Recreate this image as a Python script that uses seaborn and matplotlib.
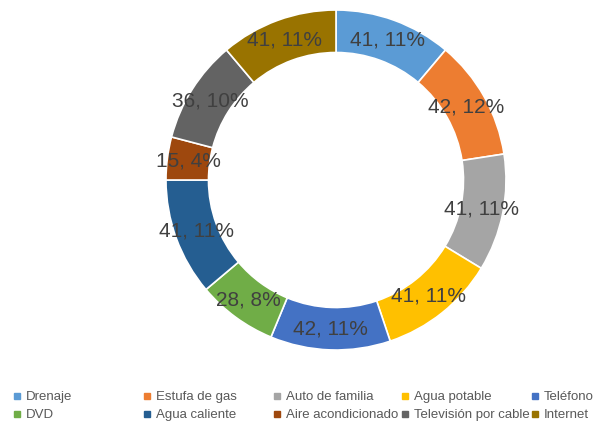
import matplotlib
matplotlib.use("Agg")
import matplotlib.pyplot as plt
from matplotlib.lines import Line2D
import numpy as np
import seaborn as sns

categories = ["Drenaje", "Estufa de gas", "Auto de familia", "Agua potable", "Teléfono",
              "DVD", "Agua caliente", "Aire acondicionado", "Televisión por cable", "Internet"]
values = [41, 42, 41, 41, 42, 28, 41, 15, 36, 41]
percents = [11, 12, 11, 11, 11, 8, 11, 4, 10, 11]
colors = ["#5B9BD5", "#ED7D31", "#A5A5A5", "#FFC000", "#4472C4",
          "#70AD47", "#255E91", "#9E480E", "#636363", "#997300"]

sns.set_theme(style="white")
plt.rcParams["font.family"] = ["Liberation Sans", "DejaVu Sans"]

fig = plt.figure(figsize=(5.95, 4.22), dpi=100)
W, H = 595, 422
cx, cy, R = 336, 180, 170
ax = fig.add_axes([(cx - R) / W, (H - cy - R) / H, 2 * R / W, 2 * R / H])

wedges, _ = ax.pie(values, colors=colors, startangle=90, counterclock=False, radius=1,
                   wedgeprops=dict(width=0.25, edgecolor="white", linewidth=1.2))
total = sum(values)
ang = 90.0
for v, p in zip(values, percents):
    span = 360.0 * v / total
    mid = np.deg2rad(ang - span / 2)
    r = 0.875
    ax.text(r * np.cos(mid), r * np.sin(mid), f"{v}, {p}%", ha="center", va="center",
            fontsize=15, color="#404040")
    ang -= span
ax.set_xlim(-1, 1)
ax.set_ylim(-1, 1)
ax.set_aspect("equal")
ax.axis("off")

handles = [Line2D([0], [0], marker="s", linestyle="none", markersize=5,
                  markerfacecolor=c, markeredgecolor=c) for c in colors]
col_x = [13, 143, 273, 401, 531]
for i, x in enumerate(col_x):
    fig.legend([handles[i], handles[i + 5]], [categories[i], categories[i + 5]],
               loc="upper left", bbox_to_anchor=(x / W, 1 - 391 / H),
               frameon=False, fontsize=9.5, labelcolor="#595959",
               handlelength=0.6, handletextpad=0.35, labelspacing=0.45,
               borderpad=0, borderaxespad=0)

fig.savefig("out.png", dpi=100)
